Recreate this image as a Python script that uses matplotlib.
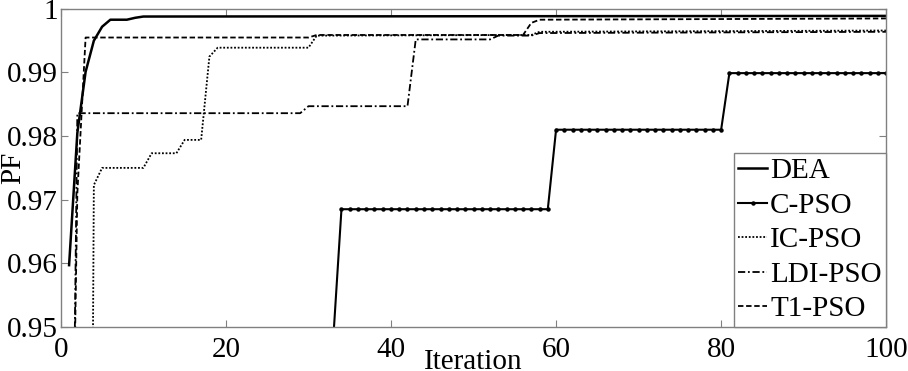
import numpy as np
import matplotlib
matplotlib.use("Agg")
import matplotlib.pyplot as plt

plt.rcParams['font.family'] = ['Liberation Serif', 'DejaVu Serif']

# ---- data ----
dea_x = [1, 2, 3, 4, 5, 6, 8, 9, 10, 100]
dea_y = [0.9597, 0.9805, 0.9901, 0.9950, 0.9972, 0.9983, 0.9983, 0.9986, 0.9988, 0.9989]

cpso_levels = [0.948, 0.9685, 0.9810, 0.9899]
cpso_runs = [33, 26, 21, 20]

ic_x = [3, 4, 5, 10, 11, 14, 15, 17, 18, 19, 30, 31, 57, 58, 100]
ic_y = [0.75, 0.9723, 0.9750, 0.9750, 0.9773, 0.9773, 0.9794, 0.9794, 0.9925, 0.9939,
        0.9939, 0.9958, 0.9959, 0.9964, 0.9966]

ldi_x = [1, 2, 29, 30, 42, 43, 52, 53, 57, 58, 100]
ldi_y = [0.872, 0.9836, 0.9836, 0.9847, 0.9847, 0.9952, 0.9952, 0.9958, 0.9958, 0.9962, 0.9964]

t1_x = [1, 2, 3, 30, 31, 56, 57, 58, 100]
t1_y = [0.89, 0.971, 0.9955, 0.9955, 0.9959, 0.9959, 0.9978, 0.9983, 0.9985]

labels = ['DEA', 'C-PSO', 'IC-PSO', 'LDI-PSO', 'T1-PSO']
yticks = [0.95, 0.96, 0.97, 0.98, 0.99, 1.0]
ytick_labels = ['0.95', '0.96', '0.97', '0.98', '0.99', '1']
xticks = [0, 20, 40, 60, 80, 100]

cpso_y = np.repeat(cpso_levels, cpso_runs)
cpso_x = np.arange(1, len(cpso_y) + 1)

fig = plt.figure(figsize=(9.08, 3.71), dpi=100)
ax = fig.add_axes([0.067, 0.119, 0.909, 0.857])

ax.plot(dea_x, dea_y, color='black', lw=1.8, label=labels[0])
ax.plot(cpso_x, cpso_y, color='black', lw=1.5, marker='o', markersize=2.2, label=labels[1])
ax.plot(ic_x, ic_y, color='black', lw=1.3, linestyle=(0, (1, 1)), label=labels[2])
ax.plot(ldi_x, ldi_y, color='black', lw=1.3, linestyle=(0, (4, 1.5, 1, 1.5)), label=labels[3])
ax.plot(t1_x, t1_y, color='black', lw=1.3, linestyle=(0, (3, 1.5)), label=labels[4])

ax.set_xlim(0, 100)
ax.set_ylim(0.95, 1.0)
ax.set_xticks(xticks)
ax.set_yticks(yticks)
ax.set_yticklabels(ytick_labels)
ax.tick_params(direction='in', length=5, width=0.8, color='#808080',
               top=True, right=True, labelsize=21)
ax.tick_params(axis='y', pad=2)
ax.tick_params(axis='x', pad=7)
for sp in ax.spines.values():
    sp.set_color('#808080')
    sp.set_linewidth(1.0)

ax.set_xlabel('Iteration', fontsize=21, labelpad=-10)
ax.set_ylabel('PF', fontsize=21)
ax.yaxis.set_label_coords(-0.042, 0.5)

leg = ax.legend(loc='lower right', fontsize=21, handlelength=1.0, handletextpad=0.1,
                labelspacing=0.28, borderpad=0.15, borderaxespad=0.0,
                fancybox=False, framealpha=1.0, edgecolor='#808080')
leg.get_frame().set_linewidth(1.0)

fig.savefig('out.png', dpi=100)
